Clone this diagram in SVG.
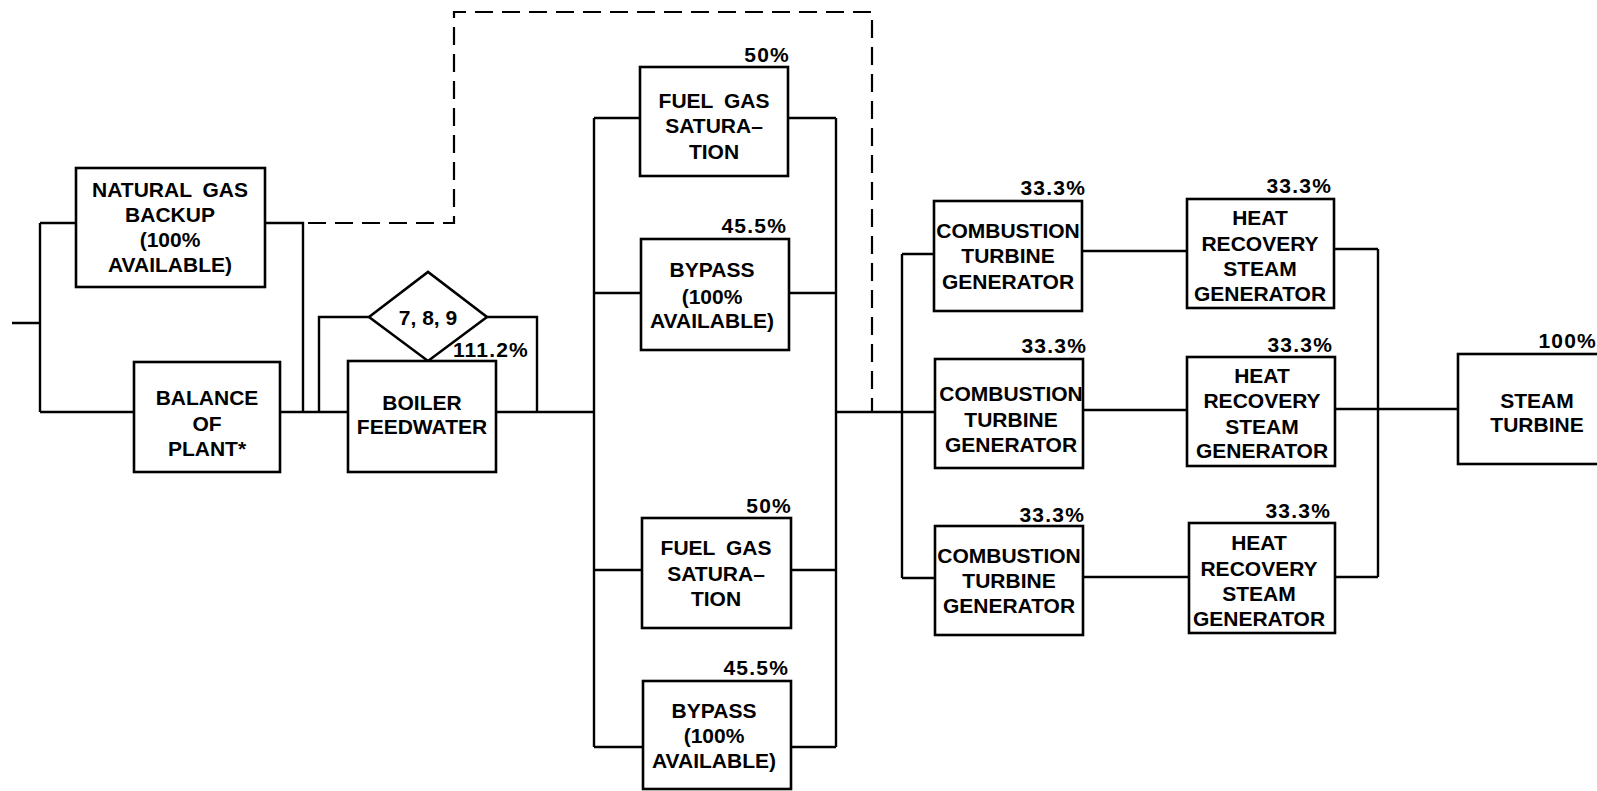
<svg xmlns="http://www.w3.org/2000/svg" width="1597" height="791" viewBox="0 0 1597 791">
<style>
.box{fill:#fff;stroke:#000;stroke-width:2.6}
.ln{fill:none;stroke:#000;stroke-width:2.4}
.dash{fill:none;stroke:#000;stroke-width:2.2;stroke-dasharray:18 9}
text{font-family:"Liberation Sans",Arial,sans-serif;font-weight:bold;font-size:21px;fill:#000}
.c{text-anchor:middle}
.p{text-anchor:end;letter-spacing:1.2px}
</style>
<rect width="1597" height="791" fill="#fff"/>
<g id="connectors">
<path class="ln" d="M12,323 H40 M40,223 V412 M40,223 H76 M40,412 H134"/>
<path class="ln" d="M265,223 H303 V412"/>
<path class="dash" d="M308,223 H454 V12 H872 V412"/>
<path class="ln" d="M280,412 H348 M319,412 V317 H369 M487,317 H537 V412 M496,412 H594"/>
<path class="ln" d="M594,118 V747 M836,118 V747 M594,118 H640 M788,118 H836 M594,293 H641 M789,293 H836 M594,570 H642 M791,570 H836 M594,747 H643 M791,747 H836"/>
<path class="ln" d="M836,412 H935 M902,254 V578 M902,254 H934 M902,578 H935"/>
<path class="ln" d="M1082,251 H1187 M1083,410 H1187 M1083,577 H1189"/>
<path class="ln" d="M1334,249 H1378 M1335,409 H1458 M1335,577 H1378 M1378,249 V577"/>
</g>
<g id="natural-gas-backup">
<rect class="box" x="76" y="168" width="189" height="119"/>
<text class="c" x="170" y="197" word-spacing="5">NATURAL GAS</text>
<text class="c" x="170" y="222">BACKUP</text>
<text class="c" x="170" y="247">(100%</text>
<text class="c" x="170" y="272">AVAILABLE)</text>
</g>
<g id="balance-of-plant">
<rect class="box" x="134" y="362" width="146" height="110"/>
<text class="c" x="207" y="405">BALANCE</text>
<text class="c" x="207" y="431">OF</text>
<text class="c" x="207" y="456">PLANT*</text>
</g>
<g id="diamond-789">
<polygon class="box" points="369,317 428,272 487,317 428,361"/>
<text class="c" x="428" y="325">7, 8, 9</text>
</g>
<g id="boiler-feedwater">
<rect class="box" x="348" y="361" width="148" height="111"/>
<text class="c" x="422" y="410">BOILER</text>
<text class="c" x="422" y="434">FEEDWATER</text>
<text class="p" x="529" y="357">111.2%</text>
</g>
<g id="fuel-gas-1">
<rect class="box" x="640" y="67" width="148" height="109"/>
<text class="p" x="790" y="62">50%</text>
<text class="c" x="714" y="108" word-spacing="5">FUEL GAS</text>
<text class="c" x="714" y="133">SATURA–</text>
<text class="c" x="714" y="159">TION</text>
</g>
<g id="bypass-1">
<rect class="box" x="641" y="239" width="148" height="111"/>
<text class="p" x="787" y="233">45.5%</text>
<text class="c" x="712" y="277">BYPASS</text>
<text class="c" x="712" y="304">(100%</text>
<text class="c" x="712" y="328">AVAILABLE)</text>
</g>
<g id="fuel-gas-2">
<rect class="box" x="642" y="518" width="149" height="110"/>
<text class="p" x="792" y="513">50%</text>
<text class="c" x="716" y="555" word-spacing="5">FUEL GAS</text>
<text class="c" x="716" y="581">SATURA–</text>
<text class="c" x="716" y="606">TION</text>
</g>
<g id="bypass-2">
<rect class="box" x="643" y="681" width="148" height="108"/>
<text class="p" x="789" y="675">45.5%</text>
<text class="c" x="714" y="718">BYPASS</text>
<text class="c" x="714" y="743">(100%</text>
<text class="c" x="714" y="768">AVAILABLE)</text>
</g>
<g id="ctg-1">
<rect class="box" x="934" y="201" width="148" height="110"/>
<text class="p" x="1086" y="195">33.3%</text>
<text class="c" x="1008" y="238">COMBUSTION</text>
<text class="c" x="1008" y="263">TURBINE</text>
<text class="c" x="1008" y="289">GENERATOR</text>
</g>
<g id="ctg-2">
<rect class="box" x="935" y="359" width="148" height="109"/>
<text class="p" x="1087" y="353">33.3%</text>
<text class="c" x="1011" y="401">COMBUSTION</text>
<text class="c" x="1011" y="427">TURBINE</text>
<text class="c" x="1011" y="452">GENERATOR</text>
</g>
<g id="ctg-3">
<rect class="box" x="935" y="526" width="148" height="109"/>
<text class="p" x="1085" y="522">33.3%</text>
<text class="c" x="1009" y="563">COMBUSTION</text>
<text class="c" x="1009" y="588">TURBINE</text>
<text class="c" x="1009" y="613">GENERATOR</text>
</g>
<g id="hrsg-1">
<rect class="box" x="1187" y="199" width="147" height="109"/>
<text class="p" x="1332" y="193">33.3%</text>
<text class="c" x="1260" y="225">HEAT</text>
<text class="c" x="1260" y="251">RECOVERY</text>
<text class="c" x="1260" y="276">STEAM</text>
<text class="c" x="1260" y="301">GENERATOR</text>
</g>
<g id="hrsg-2">
<rect class="box" x="1187" y="357" width="148" height="109"/>
<text class="p" x="1333" y="352">33.3%</text>
<text class="c" x="1262" y="383">HEAT</text>
<text class="c" x="1262" y="408">RECOVERY</text>
<text class="c" x="1262" y="434">STEAM</text>
<text class="c" x="1262" y="458">GENERATOR</text>
</g>
<g id="hrsg-3">
<rect class="box" x="1189" y="523" width="146" height="110"/>
<text class="p" x="1331" y="518">33.3%</text>
<text class="c" x="1259" y="550">HEAT</text>
<text class="c" x="1259" y="576">RECOVERY</text>
<text class="c" x="1259" y="601">STEAM</text>
<text class="c" x="1259" y="626">GENERATOR</text>
</g>
<g id="steam-turbine">
<rect class="box" x="1458" y="354" width="160" height="110"/>
<text class="p" x="1597" y="348">100%</text>
<text class="c" x="1537" y="408">STEAM</text>
<text class="c" x="1537" y="432">TURBINE</text>
</g>
</svg>
